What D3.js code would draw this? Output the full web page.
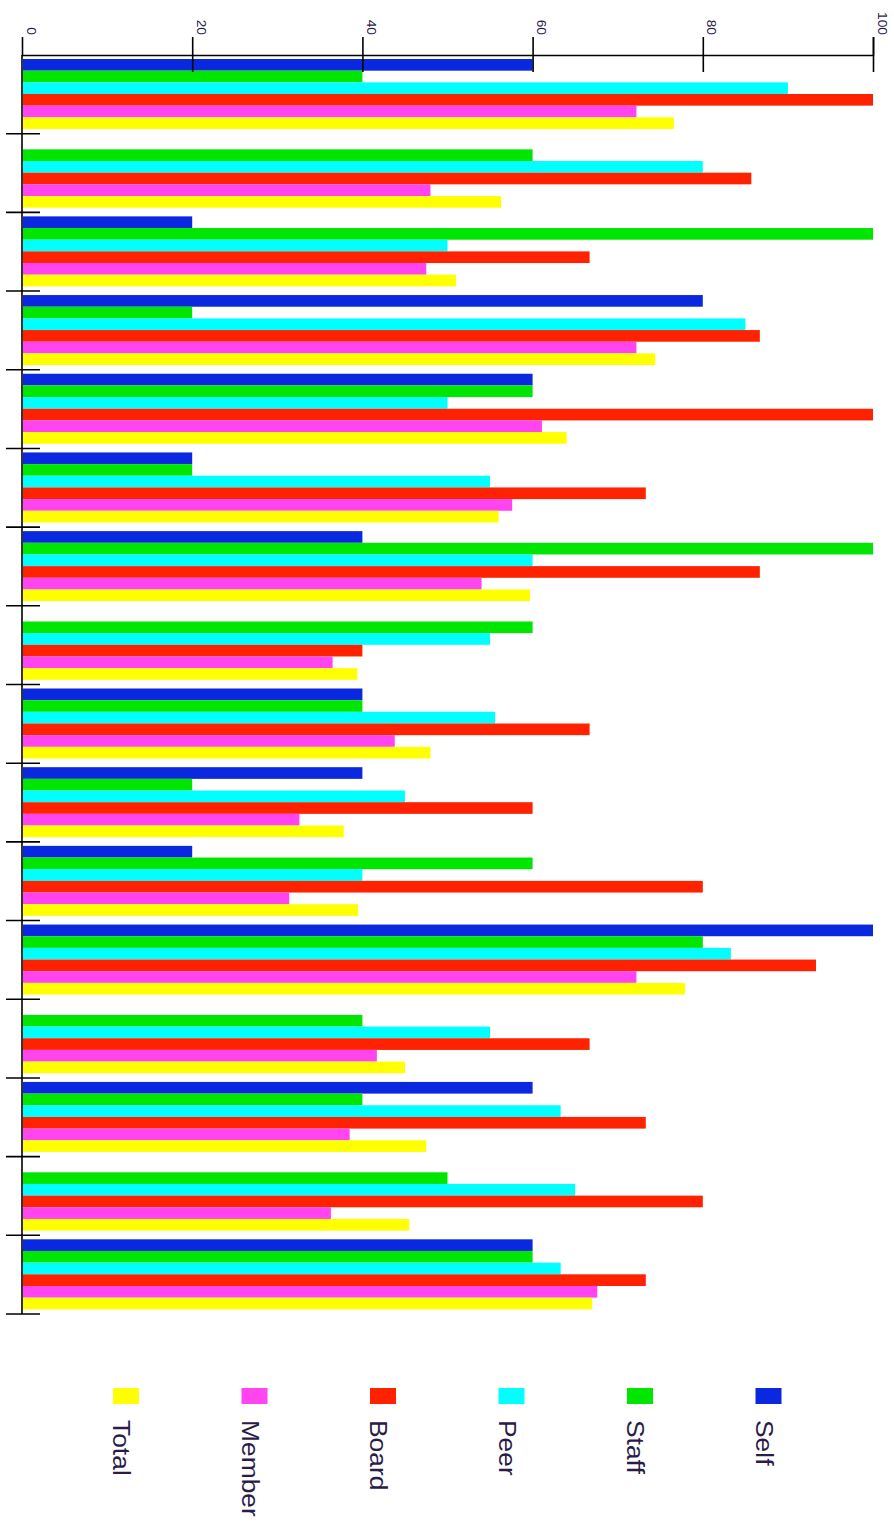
<!DOCTYPE html>
<html>
<head>
    <meta charset="utf-8">
    <title>Ratings by group</title>
    <script src="https://d3js.org/d3.v7.min.js"></script>
    <style>
        body { margin: 0; background: #fff; }
        text { font-family: "Liberation Sans", Arial, sans-serif; }
    </style>
</head>
<body>
<div id="chart"></div>
<script type="text/javascript">
    // categories (no labels shown in the chart) and one array per series
    let categories = ["1","2","3","4","5","6","7","8","9","10","11","12","13","14","15","16"];
    let seriesNames = ["Self", "Staff", "Peer", "Board", "Member", "Total"];
    let legendOrder = ["Total", "Member", "Board", "Peer", "Staff", "Self"];
    let tickValues = [0, 20, 40, 60, 80, 100];

    let self   = [60, 0, 20, 80, 60, 20, 40, 0, 40, 40, 20, 100, 0, 60, 0, 60];
    let staff  = [40, 60, 100, 20, 60, 20, 100, 60, 40, 20, 60, 80, 40, 40, 50, 60];
    let peer   = [90, 80, 50, 85, 50, 55, 60, 55, 55.6, 45, 40, 83.3, 55, 63.3, 65, 63.3];
    let board  = [100, 85.7, 66.7, 86.7, 100, 73.3, 86.7, 40, 66.7, 60, 80, 93.3, 66.7, 73.3, 80, 73.3];
    let member = [72.2, 48, 47.5, 72.2, 61.1, 57.6, 54, 36.5, 43.8, 32.6, 31.4, 72.2, 41.7, 38.5, 36.3, 67.6];
    let total  = [76.6, 56.3, 51, 74.4, 64, 56, 59.7, 39.4, 48, 37.8, 39.5, 77.9, 45, 47.5, 45.5, 67];

    let seriesValues = {Self: self, Staff: staff, Peer: peer, Board: board, Member: member, Total: total};
    let colors = {
        Self: "#0a28e0", Staff: "#00e600", Peer: "#00ffff",
        Board: "#ff2200", Member: "#ff44f0", Total: "#ffff00"
    };

    let W = 894, H = 1526;
    let textColor = "#2a1c48";

    let svg = d3.select("#chart")
        .append("svg")
            .attr("width", W)
            .attr("height", H);

    let xScale = d3.scaleLinear().domain([0, 100]).range([22, 873]);
    let yScale = d3.scaleBand().domain(categories).range([55, 1314]).padding(0);
    let inner = d3.scaleBand().domain(seriesNames).range([4, 74]).padding(0);

    // bars
    let groups = svg.selectAll("g.group")
        .data(categories)
        .enter()
        .append("g")
        .attr("class", "group")
        .attr("transform", function(d){ return "translate(0," + yScale(d) + ")"; });

    groups.selectAll("rect")
        .data(function(d, i){
            return seriesNames.map(function(s){ return {series: s, value: seriesValues[s][i]}; });
        })
        .enter()
        .append("rect")
        .attr("x", xScale(0) + 1)
        .attr("y", function(d){ return inner(d.series); })
        .attr("width", function(d){ return Math.max(0, xScale(d.value) - xScale(0) - 1); })
        .attr("height", inner.bandwidth())
        .attr("fill", function(d){ return colors[d.series]; });

    // top value axis, ticks cross the line
    let xAxis = d3.axisTop(xScale).tickValues(tickValues).tickSize(18).tickFormat(d3.format("d"));
    let ax = svg.append("g")
        .attr("transform", "translate(0,55)")
        .call(xAxis);
    ax.select(".domain").attr("stroke", "#000").attr("stroke-width", 1.6);
    ax.selectAll(".tick line")
        .attr("y1", 17)
        .attr("stroke", "#000")
        .attr("stroke-width", 1.6)
        .attr("display", function(d){ return d === 0 ? "none" : null; });
    ax.selectAll(".tick text")
        .attr("x", 0).attr("y", 0).attr("dy", 0)
        .attr("transform", "translate(4,-20) rotate(90) scale(1.1,1)")
        .attr("text-anchor", "end")
        .attr("font-size", 12.5)
        .attr("fill", textColor);

    // left category axis
    svg.append("line")
        .attr("x1", 22).attr("x2", 22)
        .attr("y1", 55).attr("y2", 1314)
        .attr("stroke", "#000").attr("stroke-width", 1.6);

    svg.selectAll("line.gtick")
        .data(categories)
        .enter()
        .append("line")
        .attr("class", "gtick")
        .attr("x1", 6).attr("x2", 40)
        .attr("y1", function(d){ return yScale(d) + yScale.bandwidth(); })
        .attr("y2", function(d){ return yScale(d) + yScale.bandwidth(); })
        .attr("stroke", "#000").attr("stroke-width", 1.6);

    // legend
    let legend = svg.selectAll("g.legend")
        .data(legendOrder)
        .enter()
        .append("g")
        .attr("class", "legend")
        .attr("transform", function(d, i){ return "translate(" + (113 + i * 128.5) + ",1388)"; });

    legend.append("rect")
        .attr("width", 26).attr("height", 16)
        .attr("fill", function(d){ return colors[d]; });

    legend.append("text")
        .attr("transform", "translate(0,32) rotate(90) scale(1.1,1)")
        .attr("font-size", 24)
        .attr("fill", textColor)
        .text(function(d){ return d; });
</script>
</body>
</html>
